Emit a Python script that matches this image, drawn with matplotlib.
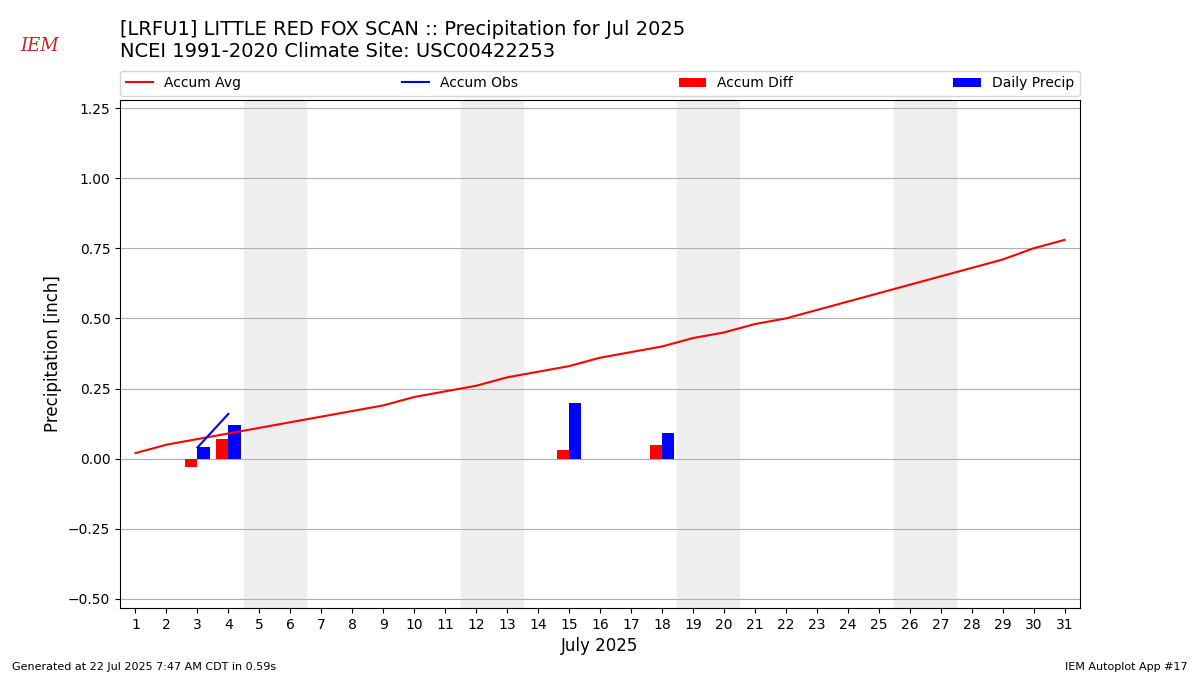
import matplotlib
matplotlib.use("Agg")
import matplotlib.pyplot as plt

days = list(range(1, 32))
accum_avg = [0.02, 0.05, 0.07, 0.09, 0.11, 0.13, 0.15, 0.17, 0.19, 0.22, 0.24,
             0.26, 0.29, 0.31, 0.33, 0.36, 0.38, 0.40, 0.43, 0.45, 0.48, 0.50,
             0.53, 0.56, 0.59, 0.62, 0.65, 0.68, 0.71, 0.75, 0.78]
obs_days = [3, 4]
accum_obs = [0.04, 0.16]
precip_days = [3, 4, 15, 18]
daily_precip = [0.04, 0.12, 0.20, 0.09]
accum_diff = [-0.03, 0.07, 0.03, 0.05]
weekends = [(4.5, 6.5), (11.5, 13.5), (18.5, 20.5), (25.5, 27.5)]

fig = plt.figure(figsize=(12, 6.75), dpi=100)
ax = fig.add_axes([0.1, 0.0993, 0.8, 0.7527])

for a, b in weekends:
    ax.axvspan(a, b, color="#eeeeee", zorder=0)

ax.plot(days, accum_avg, color="red", label="Accum Avg", zorder=3)
ax.plot(obs_days, accum_obs, color="blue", label="Accum Obs", zorder=3)
ax.bar(precip_days, accum_diff, width=-0.4, align="edge", color="red", label="Accum Diff", zorder=2)
ax.bar(precip_days, daily_precip, width=0.4, align="edge", color="blue", label="Daily Precip", zorder=2)

ax.set_xlim(0.5, 31.5)
ax.set_ylim(-0.532, 1.279)
ax.set_xticks(days)
ax.set_yticks([-0.5, -0.25, 0, 0.25, 0.5, 0.75, 1.0, 1.25])
ax.grid(axis="y", color="#b0b0b0")
ax.set_axisbelow(True)
ax.set_xlabel("July 2025", fontsize=12)
ax.set_ylabel("Precipitation [inch]", fontsize=12)

ax.legend(loc="lower left", bbox_to_anchor=(0, 1.008, 1, 0.05), ncol=4, mode="expand",
          borderaxespad=0, fontsize=10)

fig.text(0.1, 0.94, "[LRFU1] LITTLE RED FOX SCAN :: Precipitation for Jul 2025\n"
         "NCEI 1991-2020 Climate Site: USC00422253", fontsize=14, va="center")
fig.text(0.017, 0.932, "IEM", color="#cc2222", fontsize=13, fontstyle="italic",
         family="DejaVu Serif", va="center")
fig.text(0.01, 0.008, "Generated at 22 Jul 2025 7:47 AM CDT in 0.59s", fontsize=8)
fig.text(0.99, 0.008, "IEM Autoplot App #17", fontsize=8, ha="right")

fig.savefig("out.png", dpi=100)
